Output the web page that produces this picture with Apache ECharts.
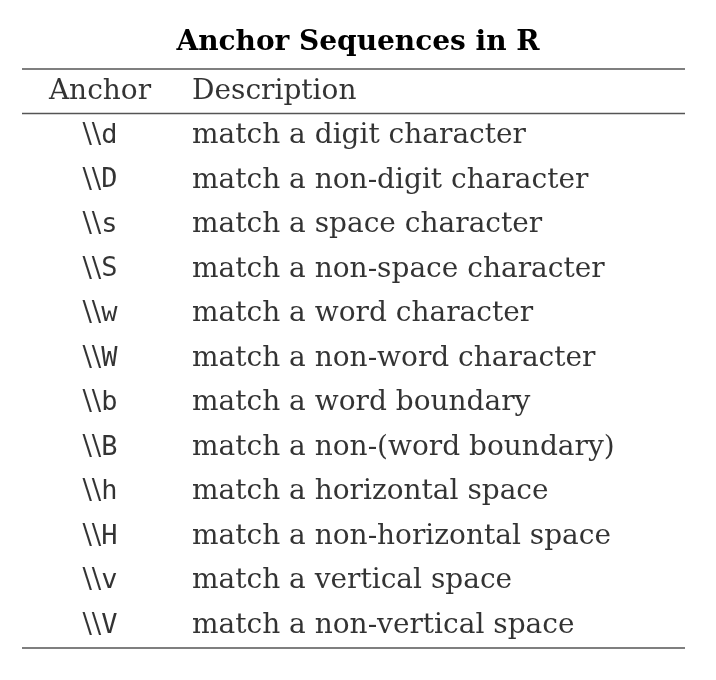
<!DOCTYPE html>
<html lang="en">
<head>
    <meta charset="UTF-8">
    <title>Anchor Sequences in R</title>
    <script src="https://cdn.jsdelivr.net/npm/echarts/dist/echarts.min.js"></script>
    <style>
        html, body { margin: 0; background: #fff; }
        #main { width: 716px; height: 680px; }
    </style>
</head>
<body>
<div id="main"></div>
<script>
    const headers = ['Anchor', 'Description'];
    const anchorLetters = ['d', 'D', 's', 'S', 'w', 'W', 'b', 'B', 'h', 'H', 'v', 'V'];
    const descriptions = [
        'match a digit character',
        'match a non-digit character',
        'match a space character',
        'match a non-space character',
        'match a word character',
        'match a non-word character',
        'match a word boundary',
        'match a non-(word boundary)',
        'match a horizontal space',
        'match a non-horizontal space',
        'match a vertical space',
        'match a non-vertical space'
    ];

    const serif = 'DejaVu Serif';
    const rows = ['header'].concat(anchorLetters.map((_, i) => 'r' + i));
    const anchorX = 100, descX = 192;

    const anchorData = [{value: [anchorX, 'header'], label: {formatter: headers[0]}}]
        .concat(anchorLetters.map((l, i) => ({
            value: [anchorX, 'r' + i],
            label: {formatter: '{bs|\\\\}{tt|' + l + '}'}
        })));
    const descData = [{value: [descX, 'header'], label: {formatter: headers[1]}}]
        .concat(descriptions.map((d, i) => ({value: [descX, 'r' + i], label: {formatter: d}})));

    const chart = echarts.init(document.getElementById('main'));
    const gridTop = 69, gridBottom = 32;
    const rowH = (680 - gridTop - gridBottom) / rows.length;
    const rule = y => ({type: 'line', shape: {x1: 22, y1: y, x2: 685, y2: y},
        style: {stroke: '#555', lineWidth: 1.5}});

    chart.setOption({
        animation: false,
        title: {
            text: 'Anchor Sequences in R',
            left: 'center', top: 24,
            textStyle: {fontFamily: serif, fontWeight: 'bold', fontSize: 28, color: '#000'}
        },
        grid: {left: 0, right: 0, top: gridTop, bottom: gridBottom},
        xAxis: {type: 'value', min: 0, max: 716, show: false},
        yAxis: {type: 'category', data: rows, inverse: true, show: false},
        graphic: [rule(gridTop), rule(gridTop + rowH), rule(680 - gridBottom)],
        series: [
            {
                type: 'scatter', symbolSize: 0, data: anchorData,
                label: {
                    show: true, position: 'inside', align: 'center', verticalAlign: 'middle',
                    fontFamily: serif, fontSize: 28, color: '#000',
                    rich: {
                        bs: {fontFamily: serif, fontSize: 28, color: '#000'},
                        tt: {fontFamily: 'DejaVu Sans Mono', fontSize: 27, color: '#000'}
                    }
                }
            },
            {
                type: 'scatter', symbolSize: 0, data: descData,
                label: {
                    show: true, position: 'inside', align: 'left', verticalAlign: 'middle',
                    fontFamily: serif, fontSize: 28, color: '#000'
                }
            }
        ]
    });
</script>
</body>
</html>
